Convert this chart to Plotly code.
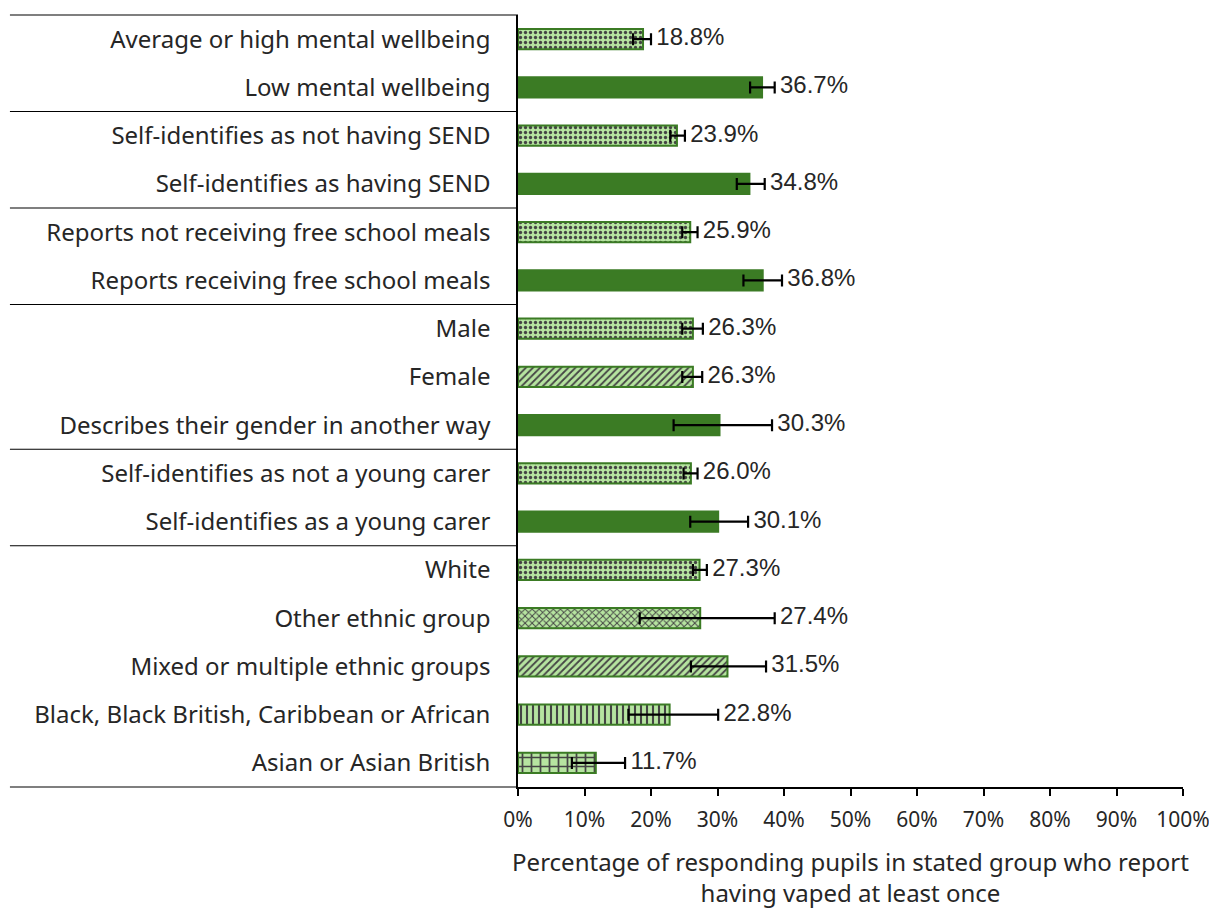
import plotly.graph_objects as go

categories = [
    "Average or high mental wellbeing",
    "Low mental wellbeing",
    "Self-identifies as not having SEND",
    "Self-identifies as having SEND",
    "Reports not receiving free school meals",
    "Reports receiving free school meals",
    "Male",
    "Female",
    "Describes their gender in another way",
    "Self-identifies as not a young carer",
    "Self-identifies as a young carer",
    "White",
    "Other ethnic group",
    "Mixed or multiple ethnic groups",
    "Black, Black British, Caribbean or African",
    "Asian or Asian British",
]
values = [18.8, 36.7, 23.9, 34.8, 25.9, 36.8, 26.3, 26.3, 30.3, 26.0, 30.1, 27.3, 27.4, 31.5, 22.8, 11.7]
ci_low = [17.3, 34.9, 22.9, 32.9, 24.7, 33.9, 24.7, 24.7, 23.4, 24.9, 25.9, 26.3, 18.3, 26.0, 16.6, 8.1]
ci_high = [20.0, 38.6, 25.1, 37.1, 27.0, 39.7, 27.8, 27.7, 38.2, 27.0, 34.6, 28.4, 38.6, 37.3, 30.1, 16.1]
patterns = [".", "", ".", "", ".", "", ".", "/", "", ".", "", ".", "x", "/", "|", "+"]
group_breaks = [1.5, 3.5, 5.5, 8.5, 10.5]
tick_vals = list(range(0, 101, 10))
tick_text = [f"{t}%" for t in tick_vals]

DARK = "#3b7b24"
LIGHT = "#b6e4a0"

bar_colors = [DARK if p == "" else LIGHT for p in patterns]
pat_sizes = [9 if p == "+" else (6 if p == "|" else 5) for p in patterns]
label_x = [h + 0.8 for h in ci_high]

fig = go.Figure()
fig.add_trace(go.Bar(
    y=categories, x=values, orientation="h", width=0.42,
    marker=dict(
        color=bar_colors,
        line=dict(color=DARK, width=2),
        pattern=dict(shape=patterns, fgcolor=DARK, fgopacity=1,
                     size=pat_sizes, solidity=0.35, fillmode="overlay"),
    ),
    error_x=dict(type="data", symmetric=False,
                 array=[h - v for h, v in zip(ci_high, values)],
                 arrayminus=[v - l for l, v in zip(ci_low, values)],
                 color="black", thickness=2.2, width=6),
    hoverinfo="skip", showlegend=False,
))
fig.add_trace(go.Scatter(
    y=categories, x=label_x, mode="text",
    text=[f"{v:.1f}%" for v in values], textposition="middle right",
    textfont=dict(family="Liberation Sans, Arial", size=24, color="#262626"),
    hoverinfo="skip", showlegend=False, cliponaxis=False,
))

# group separator lines extending into label area
for b in group_breaks:
    fig.add_shape(type="line", xref="paper", yref="y", x0=-0.764, x1=0, y0=b, y1=b,
                  line=dict(color="black", width=1.2))
fig.add_shape(type="line", xref="paper", yref="paper", x0=-0.764, x1=0, y0=1, y1=1,
              line=dict(color="black", width=1.2))
fig.add_shape(type="line", xref="paper", yref="paper", x0=-0.764, x1=0, y0=0, y1=0,
              line=dict(color="black", width=1.2))

fig.update_layout(
    width=1217, height=909,
    margin=dict(l=510, r=42, t=7, b=130),
    plot_bgcolor="white", paper_bgcolor="white",
    font=dict(family="Noto Sans", color="#262626"),
)
fig.update_xaxes(
    range=[0, 100], tickvals=tick_vals, ticktext=tick_text,
    ticks="outside", ticklen=7, tickwidth=1.5, tickcolor="black",
    showline=True, linecolor="black", linewidth=1.5,
    showgrid=False, zeroline=False, automargin=False, ticklabelstandoff=6,
    tickfont=dict(size=21, family="Noto Sans"),
    title=dict(text="Percentage of responding pupils in stated group who report<br>having vaped at least once",
               font=dict(size=24, family="Noto Sans"), standoff=22),
)
fig.update_yaxes(
    range=[len(categories) - 0.5, -0.5], showline=True, linecolor="black", linewidth=1.5,
    ticks="", showgrid=False, ticklabelstandoff=21, automargin=False,
    tickfont=dict(size=24, family="Noto Sans"),
)

fig.write_html("out.html")
